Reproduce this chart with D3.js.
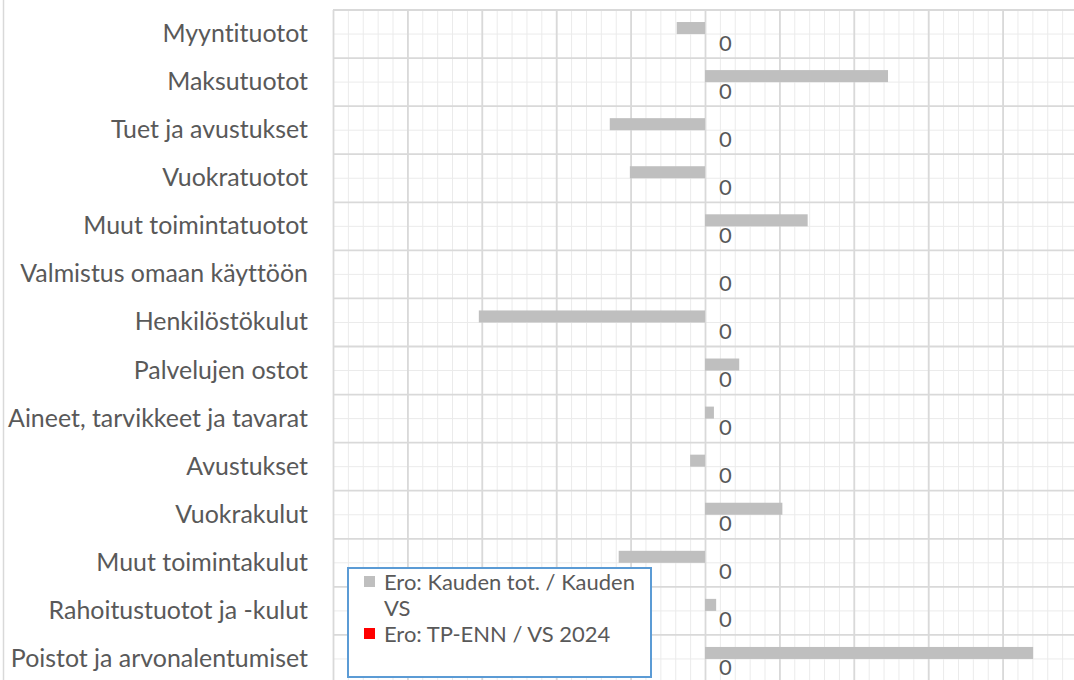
<!DOCTYPE html>
<html lang="fi">
<head>
<meta charset="UTF-8">
<title>Ero: Kauden tot. / Kauden VS</title>
<script src="https://d3js.org/d3.v7.min.js"></script>
<style>
  body { margin: 0; background: #fff; }
  svg { display: block; font-family: Lato, "Open Sans", "Liberation Sans", sans-serif; font-variant-ligatures: none; }
</style>
</head>
<body>
<div id="chart"></div>
<script>
// rivit (tuloslaskelman erät)
const categories = [
  "Myyntituotot", "Maksutuotot", "Tuet ja avustukset", "Vuokratuotot",
  "Muut toimintatuotot", "Valmistus omaan käyttöön", "Henkilöstökulut",
  "Palvelujen ostot", "Aineet, tarvikkeet ja tavarat", "Avustukset",
  "Vuokrakulut", "Muut toimintakulut", "Rahoitustuotot ja -kulut",
  "Poistot ja arvonalentumiset"
];
// Ero: Kauden tot. / Kauden VS (arvioitu kuvasta)
const eroKausi = [-38, 246, -128, -101, 138, 0, -304, 46, 12, -20, 104, -116, 15, 441];
// Ero: TP-ENN / VS 2024
const eroTpEnn = [0, 0, 0, 0, 0, 0, 0, 0, 0, 0, 0, 0, 0, 0];
const seriesNames = ["Ero: Kauden tot. / Kauden VS", "Ero: TP-ENN / VS 2024"];
const seriesColors = ["#bfbfbf", "#ff0000"];

const W = 1074, H = 680;
const plot = {left: 333, right: 1077, top: 10, bottom: 683};

const svg = d3.select("#chart").append("svg")
  .attr("width", W).attr("height", H);

const x = d3.scaleLinear().domain([-500, 500]).range([plot.left, plot.right]);
const y = d3.scaleBand().domain(categories).range([plot.top, plot.bottom]).padding(0);
const ySub = d3.scaleBand().domain([0, 1])
  .range([y.bandwidth() / 4, y.bandwidth() * 3 / 4]).padding(0);

// outer chart border (left edge only visible)
svg.append("line")
  .attr("x1", 3.5).attr("x2", 3.5).attr("y1", 0).attr("y2", H)
  .attr("stroke", "#d9d9d9").attr("stroke-width", 1.5);

// minor vertical grid
svg.append("g")
  .attr("transform", `translate(0,${plot.top})`)
  .call(d3.axisBottom(x).tickValues(x.ticks(50)).tickSize(plot.bottom - plot.top).tickFormat(""))
  .call(g => g.select(".domain").remove())
  .call(g => g.selectAll("line").attr("stroke", "#ebebeb").attr("stroke-width", 1));

// minor horizontal grid (band centres)
svg.append("g")
  .selectAll("line").data(categories).join("line")
  .attr("x1", plot.left).attr("x2", plot.right)
  .attr("y1", d => y(d) + y.bandwidth() / 2)
  .attr("y2", d => y(d) + y.bandwidth() / 2)
  .attr("stroke", "#ebebeb");

// major vertical grid
svg.append("g")
  .attr("transform", `translate(0,${plot.top})`)
  .call(d3.axisBottom(x).tickValues(x.ticks(10)).tickSize(plot.bottom - plot.top).tickFormat(""))
  .call(g => g.select(".domain").remove())
  .call(g => g.selectAll("line").attr("stroke", "#d9d9d9").attr("stroke-width", 1.8));

// major horizontal grid (band edges)
svg.append("g")
  .selectAll("line").data(categories.map(c => y(c)).concat([plot.bottom])).join("line")
  .attr("x1", plot.left).attr("x2", plot.right)
  .attr("y1", d => d).attr("y2", d => d)
  .attr("stroke", "#d9d9d9").attr("stroke-width", 1.8);

// bars
const rows = categories.map((c, i) => ({cat: c, vals: [eroKausi[i], eroTpEnn[i]]}));
const rowG = svg.append("g").selectAll("g").data(rows).join("g")
  .attr("transform", d => `translate(0,${y(d.cat)})`);

rowG.selectAll("rect").data(d => d.vals.map((v, s) => ({v, s}))).join("rect")
  .attr("x", d => x(Math.min(0, d.v)))
  .attr("y", d => ySub(d.s))
  .attr("width", d => Math.abs(x(d.v) - x(0)))
  .attr("height", ySub.bandwidth())
  .attr("fill", d => seriesColors[d.s]);

// data labels of the second series
rowG.append("text")
  .attr("x", (d, i) => x(eroTpEnn[i]) + 14)
  .attr("y", ySub(1) + 16.5)
  .attr("fill", "#595959")
  .style("font-size", "22px")
  .text((d, i) => d3.format("d")(eroTpEnn[i]));

// category labels
const labelG = svg.append("g");
labelG.selectAll("text").data(categories).join("text")
  .attr("x", 308)
  .attr("y", d => y(d) + y.bandwidth() / 2 + 8)
  .attr("text-anchor", "end")
  .attr("fill", "#595959")
  .style("font-size", "20px")
  .text(d => d);

// fit label font to reference width of the longest label
const longest = d3.max(labelG.selectAll("text").nodes(), n => n.getComputedTextLength());
const fs = 20 * 300 / longest;
labelG.selectAll("text").style("font-size", fs + "px");

// legend
const lg = svg.append("g");
lg.append("rect")
  .attr("x", 348).attr("y", 568).attr("width", 303).attr("height", 109)
  .attr("fill", "#fff").attr("stroke", "#5b9bd5").attr("stroke-width", 2);

const legendLines = [["Ero: Kauden tot. / Kauden", "VS"], ["Ero: TP-ENN / VS 2024"]];
const legendTop = [590, 642];
const legendTexts = [];
legendLines.forEach((lines, s) => {
  lg.append("rect")
    .attr("x", 364).attr("y", legendTop[s] - 14)
    .attr("width", 11).attr("height", 11)
    .attr("fill", seriesColors[s]);
  lines.forEach((ln, k) => {
    legendTexts.push(lg.append("text")
      .attr("x", 384).attr("y", legendTop[s] + k * 26)
      .attr("fill", "#595959").style("font-size", "20px")
      .text(ln));
  });
});
// first legend line spans ~251px in the reference
const lfs = 20 * 251 / legendTexts[0].node().getComputedTextLength();
legendTexts.forEach(t => t.style("font-size", lfs + "px"));
</script>
</body>
</html>
